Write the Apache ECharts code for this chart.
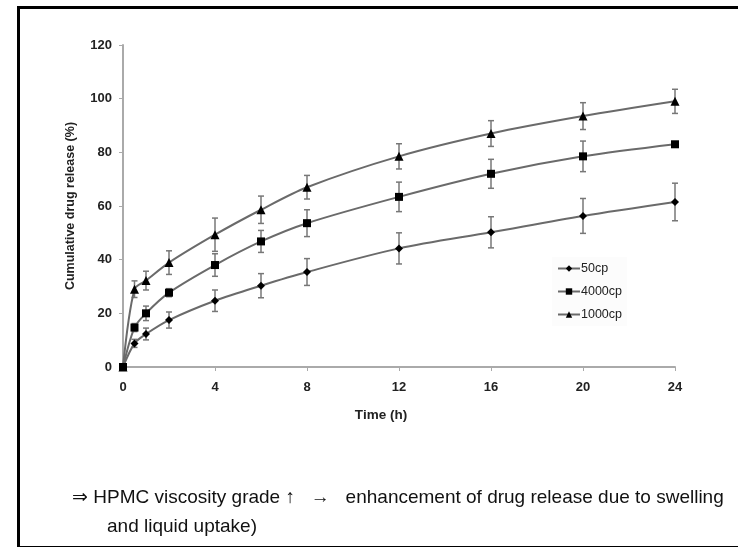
<!DOCTYPE html>
<html><head><meta charset="utf-8">
<script src="https://cdn.jsdelivr.net/npm/echarts@6/dist/echarts.min.js"></script>
<style>html,body{margin:0;padding:0;background:#fff}#c{width:738px;height:547px}</style>
</head><body><div id="c"></div>
<script>
var times = [0, 0.5, 1, 2, 4, 6, 8, 12, 16, 20, 24];
var seriesNames = ['50cp', '4000cp', '1000cp'];
var v50 = [0, 8.8, 12.3, 17.5, 24.7, 30.3, 35.4, 44.2, 50.2, 56.3, 61.5];
var e50 = [0, 1.5, 2.2, 3, 4, 4.5, 5, 5.8, 5.8, 6.5, 7];
var v4000 = [0, 14.7, 20, 27.7, 38, 46.8, 53.6, 63.4, 72, 78.5, 83];
var e4000 = [0, 1.5, 2.7, 1.5, 4.2, 4.1, 5, 5.5, 5.4, 5.7, 0];
var v1000 = [0, 29, 32.2, 38.9, 49.3, 58.6, 67, 78.5, 87, 93.5, 99];
var e1000 = [0, 3.1, 3.5, 4.4, 6.2, 5.1, 4.4, 4.7, 4.8, 5, 4.5];
var yTicks = [0, 20, 40, 60, 80, 100, 120];
var xTicks = [0, 4, 8, 12, 16, 20, 24];
var noteLine1 = '\u21D2 HPMC viscosity grade \u2191   \u2192   enhancement of drug release due to swelling';
var noteLine2 = 'and liquid uptake)';

var symbols = ['diamond', 'rect', 'triangle'];
var sizes = [8, 8, 9];
var vals = [v50, v4000, v1000];
var errs = [e50, e4000, e1000];

function pts(v) { return times.map(function (t, i) { return [t, v[i]]; }); }

var series = [];
vals.forEach(function (v, k) {
  var ed = times.map(function (t, i) { return [t, v[i] - errs[k][i], v[i] + errs[k][i]]; });
  series.push({
    type: 'custom', name: seriesNames[k] + '_err', data: ed, z: 1, silent: true,
    renderItem: function (params, api) {
      var x = api.value(0), lo = api.value(1), hi = api.value(2);
      if (hi - lo <= 0) return null;
      var p1 = api.coord([x, lo]), p2 = api.coord([x, hi]);
      var w = 3;
      var st = { stroke: '#777', lineWidth: 1.5 };
      return { type: 'group', children: [
        { type: 'line', shape: { x1: p1[0], y1: p1[1], x2: p2[0], y2: p2[1] }, style: st },
        { type: 'line', shape: { x1: p1[0] - w, y1: p1[1], x2: p1[0] + w, y2: p1[1] }, style: st },
        { type: 'line', shape: { x1: p2[0] - w, y1: p2[1], x2: p2[0] + w, y2: p2[1] }, style: st }
      ]};
    }
  });
});
vals.forEach(function (v, k) {
  series.push({
    type: 'line', name: seriesNames[k], data: pts(v), smooth: 0.3, z: 3,
    symbol: symbols[k], symbolSize: sizes[k], showSymbol: true,
    lineStyle: { color: '#6a6a6a', width: 2 },
    itemStyle: { color: '#000', borderWidth: 0 }
  });
});

var fam = 'Liberation Sans, Arial';
var chart = echarts.init(document.getElementById('c'), null, { renderer: 'canvas' });
chart.setOption({
  animation: false,
  backgroundColor: '#fff',
  grid: { left: 123, right: 63, top: 45, bottom: 180, containLabel: false },
  xAxis: {
    type: 'value', min: 0, max: 24, interval: 4,
    name: 'Time (h)', nameLocation: 'middle', nameGap: 41,
    nameTextStyle: { fontFamily: fam, fontSize: 13.5, fontWeight: 'bold', color: '#222', padding: [0, 36, 0, 0] },
    axisLine: { lineStyle: { color: '#aaa', width: 2 } },
    axisTick: { show: true, length: 4, lineStyle: { color: '#aaa' } },
    splitLine: { show: false },
    axisLabel: { fontFamily: fam, fontSize: 13, fontWeight: 'bold', color: '#222', margin: 14,
      formatter: function (v) { return xTicks.indexOf(v) >= 0 ? String(v) : ''; } }
  },
  yAxis: {
    type: 'value', min: 0, max: 120, interval: 20,
    name: 'Cumulative drug release (%)', nameLocation: 'middle', nameGap: 46, nameRotate: 90,
    nameTextStyle: { fontFamily: fam, fontSize: 12.5, fontWeight: 'bold', color: '#222' },
    axisLine: { show: true, lineStyle: { color: '#aaa', width: 2 } },
    axisTick: { show: true, length: 4, lineStyle: { color: '#aaa' } },
    splitLine: { show: false },
    axisLabel: { fontFamily: fam, fontSize: 13, fontWeight: 'bold', color: '#222', margin: 11,
      formatter: function (v) { return yTicks.indexOf(v) >= 0 ? String(v) : ''; } }
  },
  legend: {
    data: seriesNames, orient: 'vertical', left: 552, top: 257, itemGap: 10,
    itemWidth: 22, itemHeight: 8,
    backgroundColor: '#fcfcfc',
    textStyle: { fontFamily: fam, fontSize: 12.5, color: '#222', padding: [0, 0, 0, -4] }
  },
  graphic: [
    { type: 'rect', left: 16, top: 5, shape: { width: 740, height: 540 }, style: { fill: 'none', stroke: '#000', lineWidth: 3 }, silent: true },
    { type: 'text', left: 72, top: 488, style: { text: noteLine1, font: '19px "Liberation Sans", Arial, sans-serif', fill: '#111' } },
    { type: 'text', left: 107, top: 517, style: { text: noteLine2, font: '19px "Liberation Sans", Arial, sans-serif', fill: '#111' } }
  ],
  series: series
});
</script></body></html>
